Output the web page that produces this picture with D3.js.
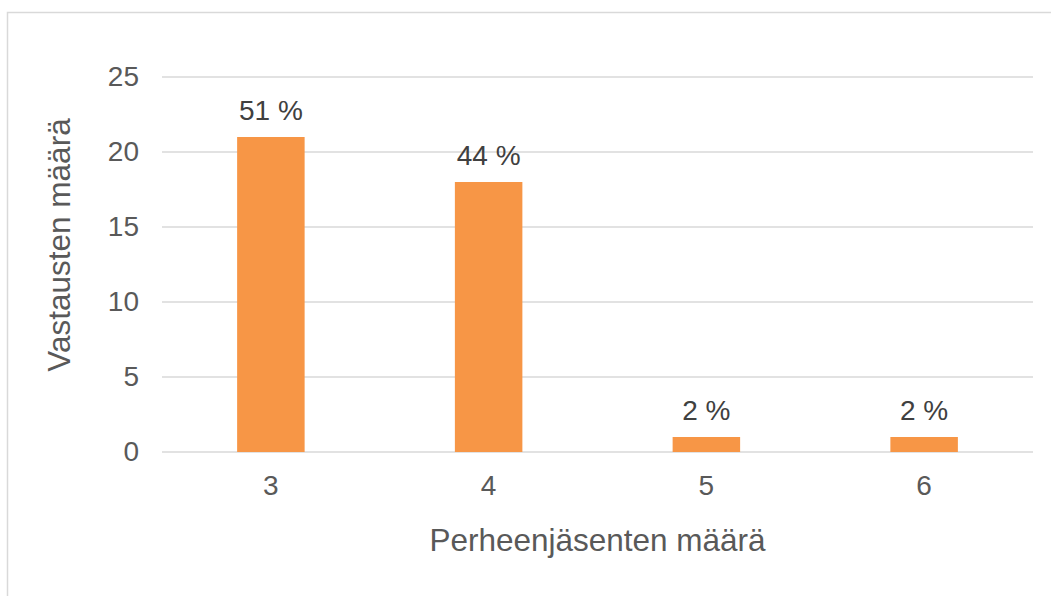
<!DOCTYPE html>
<html>
<head>
<meta charset="utf-8">
<script src="https://cdn.jsdelivr.net/npm/d3@7"></script>
<style>
    html, body { margin: 0; padding: 0; background: #fff; }
    svg { display: block; font-family: "Liberation Sans", Arial, sans-serif; }
</style>
</head>
<body>
<svg id="chart" width="1051" height="596"></svg>
<script>
// data
const categories = ['3', '4', '5', '6'];
const counts = [21, 18, 1, 1];
const shareLabels = ['51 %', '44 %', '2 %', '2 %'];
const yTicks = [0, 5, 10, 15, 20, 25];

const svg = d3.select('#chart');

// chart frame (runs off the right/bottom edge in the reference)
svg.append('rect')
    .attr('x', 7.5)
    .attr('y', 12.5)
    .attr('width', 1060)
    .attr('height', 600)
    .attr('fill', '#fff')
    .attr('stroke', '#d9d9d9')
    .attr('stroke-width', 1.5);

const plotLeft = 162, plotRight = 1033, plotTop = 77, plotBottom = 452;

const x = d3.scaleBand()
    .domain(categories)
    .range([plotLeft, plotRight])
    .paddingInner(0.69)
    .paddingOuter(0.345);

const y = d3.scaleLinear()
    .domain([0, 25])
    .range([plotBottom, plotTop]);

// gridlines
svg.append('g')
    .selectAll('line')
    .data(yTicks)
    .join('line')
    .attr('x1', plotLeft)
    .attr('x2', plotRight)
    .attr('y1', d => y(d))
    .attr('y2', d => y(d))
    .attr('stroke', '#d9d9d9')
    .attr('stroke-width', 1.5);

// y tick labels
const yAxis = svg.append('g')
    .attr('transform', `translate(${plotLeft - 23},0)`)
    .call(d3.axisLeft(y).tickValues(yTicks).tickSize(0).tickPadding(0));
yAxis.select('.domain').remove();
yAxis.selectAll('text')
    .attr('fill', '#595959')
    .attr('font-size', 28)
    .attr('font-family', '"Liberation Sans", Arial, sans-serif');

// bars
svg.append('g')
    .selectAll('rect')
    .data(counts)
    .join('rect')
    .attr('x', (d, i) => x(categories[i]))
    .attr('y', d => y(d))
    .attr('width', x.bandwidth())
    .attr('height', d => y(0) - y(d))
    .attr('fill', '#f79646');

// data labels
svg.append('g')
    .selectAll('text')
    .data(counts)
    .join('text')
    .attr('x', (d, i) => x(categories[i]) + x.bandwidth() / 2)
    .attr('y', d => y(d) - 17)
    .attr('text-anchor', 'middle')
    .attr('fill', '#404040')
    .attr('font-size', 28)
    .text((d, i) => shareLabels[i]);

// x tick labels
const xAxis = svg.append('g')
    .attr('transform', `translate(0,${plotBottom + 23})`)
    .call(d3.axisBottom(x).tickSize(0).tickPadding(0));
xAxis.select('.domain').remove();
xAxis.selectAll('text')
    .attr('fill', '#595959')
    .attr('font-size', 28)
    .attr('font-family', '"Liberation Sans", Arial, sans-serif');

// axis titles
svg.append('text')
    .attr('x', (plotLeft + plotRight) / 2)
    .attr('y', 551)
    .attr('text-anchor', 'middle')
    .attr('fill', '#595959')
    .attr('font-size', 31.5)
    .text('Perheenjäsenten määrä');

svg.append('text')
    .attr('transform', 'translate(70,245) rotate(-90)')
    .attr('text-anchor', 'middle')
    .attr('fill', '#595959')
    .attr('font-size', 31.5)
    .text('Vastausten määrä');
</script>
</body>
</html>
